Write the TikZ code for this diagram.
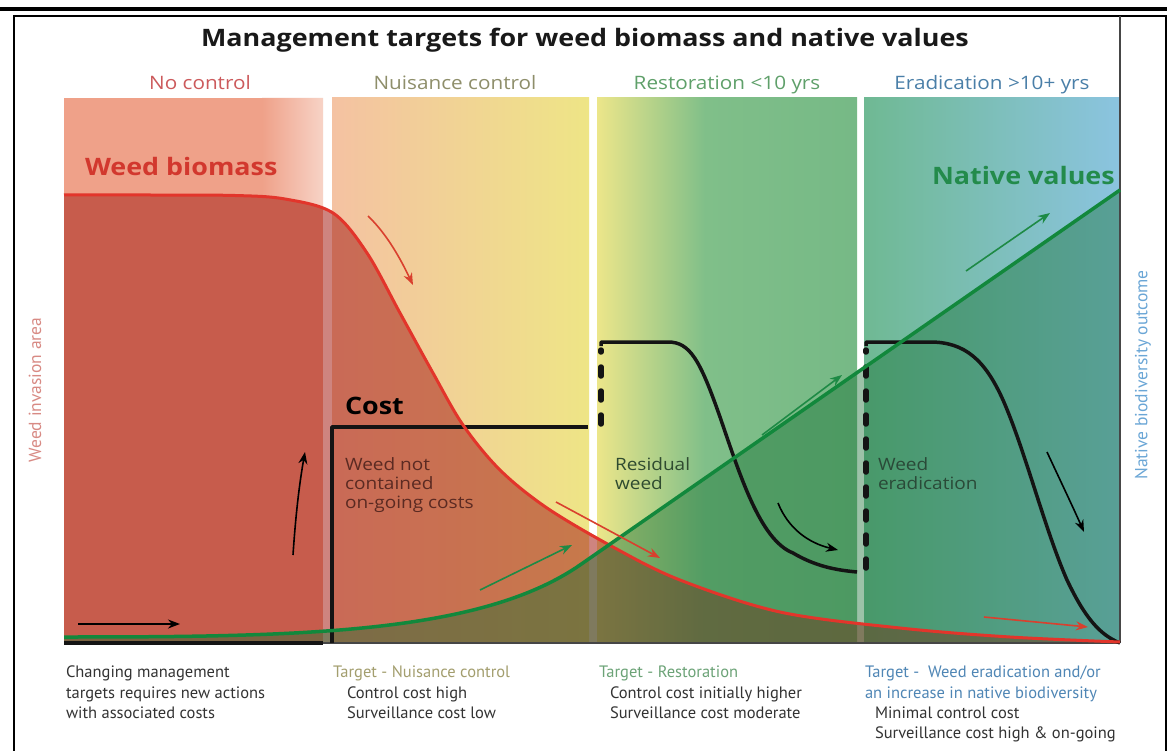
\documentclass[tikz,border=0pt]{standalone}
\usepackage{fontspec}
\setmainfont{Open Sans}
\newfontfamily\osw{Open Sans}[FakeStretch=1.12]
\newfontfamily\pts{PT Sans}
\usetikzlibrary{arrows.meta}
\definecolor{pA}{HTML}{EFA189}
\definecolor{pB}{HTML}{F7D3C6}
\definecolor{pC}{HTML}{F4C2A2}
\definecolor{pD}{HTML}{F1D995}
\definecolor{pE}{HTML}{EEE586}
\definecolor{pF}{HTML}{ECE68A}
\definecolor{pG}{HTML}{AFCF88}
\definecolor{pH}{HTML}{80BF89}
\definecolor{pI}{HTML}{76B986}
\definecolor{pJ}{HTML}{6FB993}
\definecolor{pK}{HTML}{8BC4E0}
\definecolor{ovR}{HTML}{AA281E}
\definecolor{ovG}{HTML}{146E32}
\definecolor{cRed}{HTML}{E2352B}
\definecolor{cGreen}{HTML}{12883C}
\definecolor{aRed}{HTML}{D9402E}
\definecolor{aGreen}{HTML}{1E8A45}
\definecolor{hRed}{HTML}{CC5A5C}
\definecolor{hOlive}{HTML}{8E8E6A}
\definecolor{hGreen}{HTML}{5FA06A}
\definecolor{hBlue}{HTML}{4A7FA8}
\definecolor{tRed}{HTML}{D2382E}
\definecolor{tGreen}{HTML}{238B4B}
\definecolor{sPink}{HTML}{D88A84}
\definecolor{sBlue}{HTML}{6AA6D6}
\definecolor{bOlive}{HTML}{A39E6E}
\definecolor{bGreen}{HTML}{6CA377}
\definecolor{bBlue}{HTML}{4F86B5}
\definecolor{dBrown}{HTML}{5B2A22}
\definecolor{dGreen}{HTML}{2F4B30}
\definecolor{dTeal}{HTML}{2A4A38}
\definecolor{bText}{HTML}{333333}
\begin{document}
\begin{tikzpicture}[x=1pt,y=-1pt,
  txt/.style={inner sep=0pt, outer sep=0pt, anchor=base west},
  ctxt/.style={inner sep=0pt, outer sep=0pt, anchor=base},
  costline/.style={line width=3.5pt, color=black!92, line join=round},
  dashline/.style={line width=5.5pt, color=black!92, dash pattern=on 9pt off 15pt, line cap=round},
  redcurve/.style={line width=3pt, color=cRed},
  greencurve/.style={line width=3.5pt, color=cGreen},
  arr/.style={line width=1.6pt, -{Stealth[length=12pt,width=9pt]}},
  hdr/.style={ctxt, font=\osw\fontsize{18.5}{22}\selectfont},
  big/.style={txt, font=\osw\bfseries\fontsize{24}{28}\selectfont},
  inl/.style={txt, font=\osw\fontsize{17}{20}\selectfont},
  bot/.style={txt, font=\pts\fontsize{16.5}{19}\selectfont},
  side/.style={inner sep=0pt, outer sep=0pt, rotate=90, font=\pts\fontsize{17.5}{20}\selectfont}
]
\useasboundingbox (0,0) rectangle (1167,751);
\fill[white] (0,0) rectangle (1167,751);
% frame
\fill[black] (0,7) rectangle (1167,11);
\draw[line width=1.8pt] (14,751) -- (14,16) -- (1166,16) -- (1166,751);
% panels
\fill[pA] (64,98) rectangle (323,643);
\begin{scope}
\clip (64,98) -- (64,195) -- plot[smooth, tension=0.55] coordinates {(64,195) (150,195) (235,195.5) (285,199) (333,213) (367,253)} -- (367,98) -- cycle;
\shade[left color=pA, right color=pB] (262,98) rectangle (323,643);
\end{scope}
\shade[left color=pC, middle color=pD, right color=pE] (332,98) rectangle (589,643);
\shade[left color=pF, middle color=pG, right color=pH] (597,98) rectangle (705,643);
\shade[left color=pH, right color=pI] (705,98) rectangle (857,643);
\shade[left color=pJ, right color=pK] (864,98) rectangle (1120,643);
% overlays
\fill[ovR, opacity=0.57] (64,643) -- plot[smooth, tension=0.55] coordinates {(64,195) (150,195) (235,195.5) (285,199) (333,213) (367,253) (400,313) (433,373) (463,425) (500,470) (547,508) (613,547) (680,580) (780,612) (900,628) (1010,637) (1120,642)} -- (1120,643) -- cycle;
\fill[ovG, opacity=0.42] (64,643) -- (64,637) .. controls (300,637) and (480,634) .. (580,565) -- (1120,190) -- (1120,643) -- cycle;
% edges
\draw[gray!55!black, line width=1.2pt] (1120,16) -- (1120,643);
\draw[gray!55!black, line width=1.5pt] (64,643) -- (1120,643);
% cost line
\draw[costline] (64,643) -- (323,643);
\draw[costline] (332,643) -- (332,427) -- (588,427);
\draw[dashline] (601,424) -- (601,350);
\draw[costline] (601,346) -- (601,342) -- (668,342) .. controls (690,342) and (700,360) .. (720,417) .. controls (740,475) and (760,540) .. (793,553) .. controls (815,566) and (835,570) .. (857,572);
\draw[dashline] (866,568) -- (866,350);
\draw[costline] (866,346) -- (866,342) -- (930,342) .. controls (965,342) and (985,360) .. (1003,400) .. controls (1025,450) and (1045,530) .. (1067,580) .. controls (1085,618) and (1100,635) .. (1120,643);
% curves
\draw[redcurve] plot[smooth, tension=0.55] coordinates {(64,195) (150,195) (235,195.5) (285,199) (333,213) (367,253) (400,313) (433,373) (463,425) (500,470) (547,508) (613,547) (680,580) (780,612) (900,628) (1010,637) (1120,642)};
\draw[greencurve] (64,637) .. controls (300,637) and (480,634) .. (580,565) -- (1120,190);
% arrow end points
\coordinate (r1a) at (368,216); \coordinate (r1b) at (413,285);
\coordinate (r2a) at (556,502); \coordinate (r2b) at (660,558);
\coordinate (r3a) at (984,617); \coordinate (r3b) at (1088,627);
\coordinate (g1a) at (480,590); \coordinate (g1b) at (572,545);
\coordinate (g2a) at (762,435); \coordinate (g2b) at (842,375);
\coordinate (g3a) at (966,271); \coordinate (g3b) at (1050,213);
\coordinate (b1a) at (78,624); \coordinate (b1b) at (180,624);
\coordinate (b2a) at (293,555); \coordinate (b2b) at (305,452);
\coordinate (b3a) at (778,503); \coordinate (b3b) at (838,550);
\coordinate (b4a) at (1047,452); \coordinate (b4b) at (1084,532);
% arrows
\draw[arr, aRed] (r1a) .. controls (388,235) and (402,262) .. (r1b);
\draw[arr, aRed] (r2a) -- (r2b);
\draw[arr, aRed] (r3a) -- (r3b);
\draw[arr, aGreen] (g1a) -- (g1b);
\draw[arr, aGreen] (g2a) -- (g2b);
\draw[arr, aGreen] (g3a) -- (g3b);
\draw[arr, black] (b1a) -- (b1b);
\draw[arr, black] (b2a) .. controls (296,510) and (300,480) .. (b2b);
\draw[arr, black] (b3a) .. controls (788,528) and (808,543) .. (b3b);
\draw[arr, black] (b4a) .. controls (1060,480) and (1072,505) .. (b4b);
% texts
\node[ctxt, font=\osw\bfseries\fontsize{24}{28}\selectfont, text=black!90] (title) at (585,47) {Management targets for weed biomass and native values};
\node[hdr, text=hRed] (h1) at (200,90) {No control};
\node[hdr, text=hOlive] (h2) at (455,90) {Nuisance control};
\node[hdr, text=hGreen] (h3) at (727,90) {Restoration <10 yrs};
\node[hdr, text=hBlue] (h4) at (992,90) {Eradication >10+ yrs};
\node[big, text=tRed] (wb) at (85,176) {Weed biomass};
\node[big, text=tGreen] (nv) at (932,185) {Native values};
\node[big, text=black] (cost) at (345,414) {Cost};
\node[inl, text=dBrown] (w1) at (345,470) {Weed not};
\node[inl, text=dBrown] (w2) at (345,489) {contained};
\node[inl, text=dBrown] (w3) at (345,508) {on-going costs};
\node[inl, text=dGreen] (rw1) at (615,470) {Residual};
\node[inl, text=dGreen] (rw2) at (615,489) {weed};
\node[inl, text=dTeal] (we1) at (878,470) {Weed};
\node[inl, text=dTeal] (we2) at (878,489) {eradication};
\node[side, text=sPink] (yl) at (35,390) {Weed invasion area};
\node[side, text=sBlue] (yr) at (1143,375) {Native biodiversity outcome};
% bottom texts
\node[bot, text=bText] (c1a) at (66,677) {Changing management};
\node[bot, text=bText] (c1b) at (66,698) {targets requires new actions};
\node[bot, text=bText] (c1c) at (66,718) {with associated costs};
\node[bot, text=bOlive] (c2a) at (333,677) {Target - Nuisance control};
\node[bot, text=bText] (c2b) at (347,698) {Control cost high};
\node[bot, text=bText] (c2c) at (347,718) {Surveillance cost low};
\node[bot, text=bGreen] (c3a) at (599,677) {Target - Restoration};
\node[bot, text=bText] (c3b) at (610,698) {Control cost initially higher};
\node[bot, text=bText] (c3c) at (610,718) {Surveillance cost moderate};
\node[bot, text=bBlue] (c4a) at (865,677) {Target -~ Weed eradication and/or};
\node[bot, text=bBlue] (c4b) at (865,698) {an increase in native biodiversity};
\node[bot, text=bText] (c4c) at (875,718) {Minimal control cost};
\node[bot, text=bText] (c4d) at (875,738) {Surveillance cost high \& on-going};
\end{tikzpicture}
\end{document}
